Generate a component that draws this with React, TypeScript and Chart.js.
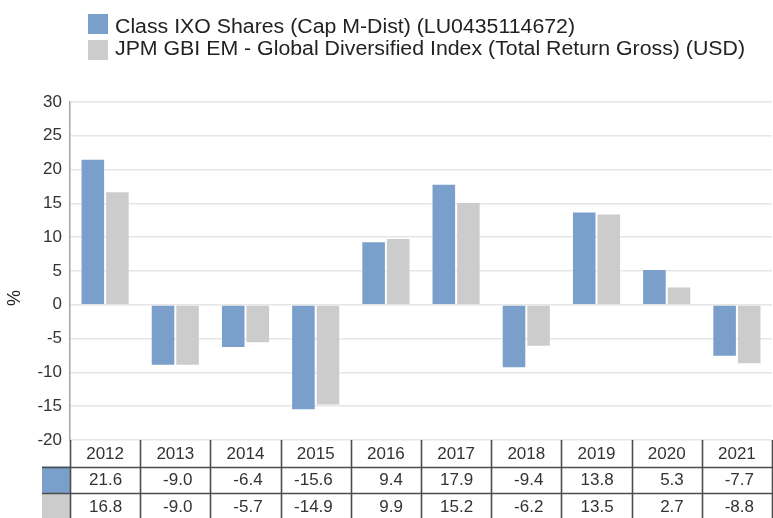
import React, { useEffect, useRef } from "react";
import { Chart, registerables } from "chart.js";

Chart.register(...registerables);

const years = ["2012", "2013", "2014", "2015", "2016", "2017", "2018", "2019", "2020", "2021"];
const fundValues = [21.6, -9.0, -6.4, -15.6, 9.4, 17.9, -9.4, 13.8, 5.3, -7.7];
const indexValues = [16.8, -9.0, -5.7, -14.9, 9.9, 15.2, -6.2, 13.5, 2.7, -8.8];
const seriesNames = [
  "Class IXO Shares (Cap M-Dist) (LU0435114672)",
  "JPM GBI EM - Global Diversified Index (Total Return Gross) (USD)",
];
const seriesColors = ["#7a9fcb", "#cccccc"];
const yMin = -20;
const yMax = 30;
const yStep = 5;
const yTitle = "%";

const FONT = '"Liberation Sans", Arial, sans-serif';

const legendPlugin = {
  id: "customLegend",
  afterDraw(chart: any) {
    const ctx = chart.ctx;
    ctx.save();
    const widths = [460, 630];
    const boxTops = [14, 40];
    const baselines = [33, 55];
    seriesNames.forEach((name, i) => {
      ctx.fillStyle = seriesColors[i];
      ctx.fillRect(88, boxTops[i], 20, 20);
      ctx.font = `20px ${FONT}`;
      ctx.fillStyle = "#222";
      ctx.textBaseline = "alphabetic";
      ctx.textAlign = "left";
      const w = ctx.measureText(name).width;
      ctx.save();
      ctx.translate(115, baselines[i]);
      ctx.scale(widths[i] / w, 1);
      ctx.fillText(name, 0, 0);
      ctx.restore();
    });
    // y title
    ctx.save();
    ctx.translate(15, 298);
    ctx.rotate(-Math.PI / 2);
    ctx.font = `18px ${FONT}`;
    ctx.fillStyle = "#222";
    ctx.textAlign = "center";
    ctx.textBaseline = "middle";
    ctx.fillText(yTitle, 0, 0);
    ctx.restore();
    ctx.restore();
  },
};

const tablePlugin = {
  id: "dataTable",
  afterDraw(chart: any) {
    const ctx = chart.ctx;
    const area = chart.chartArea;
    const xs = chart.scales.x;
    const n = years.length;
    const colW = (area.right - area.left) / n;
    const top = area.bottom;
    const rowH = 26.5;
    const swatchLeft = 42;
    const rightEdge = chart.width;
    ctx.save();
    // swatches
    ctx.fillStyle = seriesColors[0];
    ctx.fillRect(swatchLeft, top + rowH, area.left - swatchLeft, rowH);
    ctx.fillStyle = seriesColors[1];
    ctx.fillRect(swatchLeft, top + 2 * rowH, area.left - swatchLeft, rowH + 5);
    // lines
    ctx.strokeStyle = "#4d4d4d";
    ctx.lineWidth = 1.6;
    ctx.beginPath();
    for (let r = 1; r <= 2; r++) {
      const y = Math.round(top + r * rowH) + 0.5;
      ctx.moveTo(swatchLeft, y);
      ctx.lineTo(rightEdge, y);
    }
    for (let c = 0; c <= n; c++) {
      const x = Math.round(area.left + c * colW) + 0.5;
      ctx.moveTo(x, top);
      ctx.lineTo(x, chart.height);
    }
    ctx.stroke();
    // text
    ctx.fillStyle = "#333";
    ctx.font = `17px ${FONT}`;
    ctx.textBaseline = "middle";
    years.forEach((yr, i) => {
      const cx = xs.getPixelForValue(i);
      ctx.textAlign = "center";
      ctx.fillText(yr, cx, top + rowH / 2 + 1);
      ctx.textAlign = "right";
      const right = cx + colW / 2 - 18;
      ctx.fillText(fundValues[i].toFixed(1), right, top + rowH * 1.5 + 1);
      ctx.fillText(indexValues[i].toFixed(1), right, top + rowH * 2.5 + 1);
    });
    ctx.restore();
  },
};

export default function App() {
  const canvasRef = useRef<HTMLCanvasElement | null>(null);

  useEffect(() => {
    const canvas = canvasRef.current;
    if (!canvas) return;
    const chart = new Chart(canvas, {
      type: "bar",
      data: {
        labels: years,
        datasets: [
          {
            label: seriesNames[0],
            data: fundValues,
            backgroundColor: seriesColors[0],
            borderColor: "rgba(255,255,255,0.3)",
            borderWidth: 1,
            categoryPercentage: 0.7,
            barPercentage: 1,
          },
          {
            label: seriesNames[1],
            data: indexValues,
            backgroundColor: seriesColors[1],
            borderColor: "rgba(255,255,255,0.3)",
            borderWidth: 1,
            categoryPercentage: 0.7,
            barPercentage: 1,
          },
        ],
      },
      options: {
        responsive: false,
        animation: false,
        maintainAspectRatio: false,
        layout: { padding: { top: 102, bottom: 78, left: 0, right: 1 } },
        plugins: {
          legend: { display: false },
          tooltip: { enabled: false },
          title: { display: false },
        },
        scales: {
          x: {
            display: false,
            grid: { display: false },
          },
          y: {
            min: yMin,
            max: yMax,
            ticks: {
              stepSize: yStep,
              color: "#333",
              font: { family: FONT, size: 17 },
              padding: 8,
            },
            grid: { color: "#e6e6e6", drawTicks: false, lineWidth: 1.5 },
            border: { color: "#a6a6a6", width: 1.5 },
            afterFit: (s: any) => {
              s.width = 70;
            },
          },
        },
      },
      plugins: [legendPlugin, tablePlugin],
    });
    return () => chart.destroy();
  }, []);

  return (
    <div style={{ position: "absolute", left: 0, top: 0, width: 773, height: 518, background: "#fff" }}>
      <canvas ref={canvasRef} width={773} height={518} style={{ display: "block" }} />
    </div>
  );
}
